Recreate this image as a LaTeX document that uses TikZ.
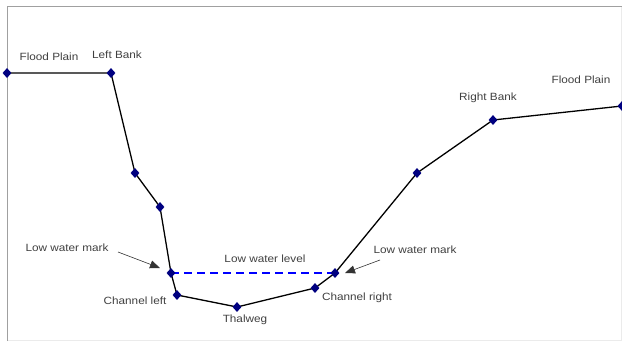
\documentclass[tikz,border=0pt]{standalone}
\usepackage{fontspec}
\setmainfont{Liberation Sans}
\newfontfamily\lblfont[FakeStretch=1.12]{Liberation Sans}
\usetikzlibrary{arrows.meta,shapes.geometric}
\definecolor{mk}{RGB}{0,0,128}
\definecolor{wl}{RGB}{0,0,255}
\definecolor{fr}{RGB}{160,160,160}
\definecolor{fr2}{RGB}{235,235,235}
\begin{document}
\begin{tikzpicture}[x=1pt,y=-1pt,
  pt/.style={shape=diamond,fill=mk,inner sep=0pt,minimum width=9pt,minimum height=10pt},
  lbl/.style={font=\lblfont\fontsize{10.5}{12}\selectfont,text=black!75,inner sep=0pt},
  bed/.style={line width=1.3pt,black},
  call/.style={draw=black!80,line width=0.6pt,-{Triangle[length=10pt,width=8pt]}}]
\useasboundingbox (0,0) rectangle (622,341);
\fill[white] (0,0) rectangle (622,341);
\draw[fr2,line width=0.8pt] (621.5,6) -- (621.5,340.5) -- (7,340.5);
\draw[fr,line width=0.8pt] (7,341) -- (7,6) -- (622,6);
% points
\coordinate (p1) at (7,73);
\coordinate (p2) at (111,73);
\coordinate (p3) at (135,173);
\coordinate (p4) at (160,207);
\coordinate (p5) at (171,273);
\coordinate (p6) at (177,295);
\coordinate (p7) at (237,307);
\coordinate (p8) at (315,288);
\coordinate (p9) at (335,273);
\coordinate (p10) at (417,173);
\coordinate (p11) at (493,120);
\coordinate (p12) at (622,106);
\draw[wl,line width=1.2pt,dash pattern=on 8pt off 5pt] (p5) -- (p9);
\draw[bed] (p1) -- (p2) -- (p3) -- (p4) -- (p5) -- (p6) -- (p7) -- (p8) -- (p9) -- (p10) -- (p11) -- (p12);
\foreach \i in {1,...,12} \node[pt] (n\i) at (p\i) {};
% labels
\node[lbl] (fpl) at (49,57) {Flood Plain};
\node[lbl] (lb) at (117,55) {Left Bank};
\node[lbl] (rb) at (488,98) {Right Bank};
\node[lbl] (fpr) at (581,80) {Flood Plain};
\node[lbl] (lwml) at (67,248) {Low water mark};
\node[lbl] (lwl) at (265,259) {Low water level};
\node[lbl] (lwmr) at (415,250) {Low water mark};
\node[lbl] (chl) at (135,301) {Channel left};
\node[lbl] (thw) at (245,320) {Thalweg};
\node[lbl] (chr) at (357,298) {Channel right};
\coordinate (a1s) at (118,252);
\coordinate (a1e) at (160,268);
\coordinate (a2s) at (380,260);
\coordinate (a2e) at (345,273);
\draw[call] (a1s) -- (a1e);
\draw[call] (a2s) -- (a2e);
\end{tikzpicture}
\end{document}
